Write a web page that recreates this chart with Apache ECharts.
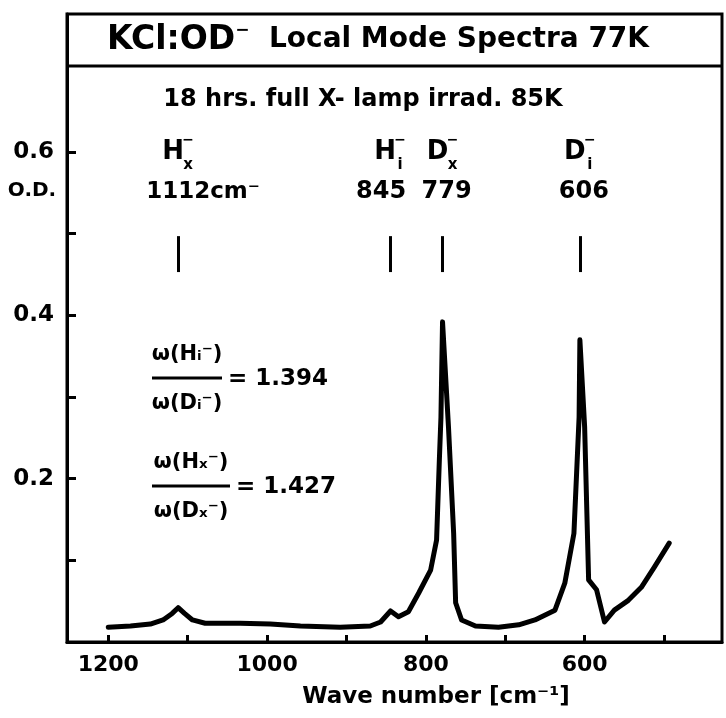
<!DOCTYPE html>
<html>
<head>
<meta charset="utf-8">
<title>KCl:OD⁻ Local Mode Spectra 77K</title>
<script src="https://cdn.jsdelivr.net/npm/echarts@6/dist/echarts.min.js"></script>
<style>body{margin:0;background:#fff;}</style>
</head>
<body>
<div id="main" style="width:726px;height:718px;"></div>
<script>
// trace: wave number (cm-1) and optical density
var waveNumber = [1200, 1172, 1147, 1131, 1119.5, 1112, 1104, 1094, 1078, 1034, 996, 958, 908, 870,
    857, 844.5, 834.5, 822, 809, 794, 786.5, 783, 781, 779, 771.5, 765, 762.5, 755, 737.5, 708.5,
    683, 662.6, 637.4, 625, 613.5, 607, 606, 600, 595, 585, 575, 562.6, 545, 528.6, 512, 493.5];
var opticalDensity = [0.018, 0.0196, 0.022, 0.027, 0.035, 0.042, 0.035, 0.027, 0.023, 0.023, 0.022, 0.0196, 0.018, 0.0196,
    0.0245, 0.038, 0.031, 0.037, 0.06, 0.088, 0.125, 0.223, 0.275, 0.392, 0.263, 0.133, 0.048, 0.027, 0.0196, 0.018,
    0.021, 0.027, 0.039, 0.072, 0.133, 0.275, 0.37, 0.263, 0.076, 0.064, 0.0245, 0.039, 0.051, 0.067, 0.092, 0.121];

var xTickValues = [1200, 1100, 1000, 900, 800, 700, 600, 500];
var xLabelValues = [1200, 1000, 800, 600];
var yTickValues = [0.1, 0.2, 0.3, 0.4, 0.5, 0.6];
var yLabelValues = [0.2, 0.4, 0.6];

// peak markers
var peakWn = [1112, 845, 779, 606];
var peakIon = ['H', 'H', 'D', 'D'];
var peakSub = ['x', 'i', 'x', 'i'];
var peakNum = ['1112', '845', '779', '606'];
var markerBottom = 0.453, markerTop = 0.497;

// frequency ratios
var ratioNum = ['ω(Hᵢ⁻)', 'ω(Hₓ⁻)'];
var ratioDen = ['ω(Dᵢ⁻)', 'ω(Dₓ⁻)'];
var ratioVal = ['1.394', '1.427'];

var FONT = 'DejaVu Sans';
var chart = echarts.init(document.getElementById('main'));

var trace = waveNumber.map(function (w, i) { return [w, opticalDensity[i]]; });
var markers = peakWn.map(function (w) {
    return [{ coord: [w, markerBottom] }, { coord: [w, markerTop] }];
});

function txt(x, y, s, size, align) {
    return {
        type: 'text', x: x, y: y, z: 10,
        style: {
            text: s, fill: '#000', font: 'bold ' + size + 'px "' + FONT + '"',
            textAlign: align || 'center', textVerticalAlign: 'middle'
        }
    };
}
function hline(x1, x2, y, w) {
    return { type: 'line', shape: { x1: x1, y1: y, x2: x2, y2: y }, style: { stroke: '#000', lineWidth: w }, z: 10 };
}

var graphics = [
    hline(66, 722, 66, 3),
    {
        type: 'text', x: 378, y: 40, z: 10,
        style: {
            text: '{a|KCl:OD}{s|−}{b|  Local Mode Spectra 77K}',
            textAlign: 'center', textVerticalAlign: 'middle', fill: '#000',
            rich: {
                a: { fontFamily: FONT, fontWeight: 'bold', fontSize: 33, fill: '#000' },
                s: { fontFamily: FONT, fontWeight: 'bold', fontSize: 17, fill: '#000', padding: [0, 0, 18, 0] },
                b: { fontFamily: FONT, fontWeight: 'bold', fontSize: 28, fill: '#000' }
            }
        }
    },
    txt(363, 100, '18 hrs. full X- lamp irrad. 85K', 24),
    txt(32, 191, 'O.D.', 20),
    txt(436, 697, 'Wave number [cm⁻¹]', 23)
];

// ratio fractions
var ratioY = [378, 486];
var ratioX2 = [222, 230];
ratioVal.forEach(function (v, i) {
    var cx = (152 + ratioX2[i]) / 2;
    graphics.push(txt(cx, ratioY[i] - 23, ratioNum[i], 21));
    graphics.push(hline(152, ratioX2[i], ratioY[i], 3));
    graphics.push(txt(cx, ratioY[i] + 26, ratioDen[i], 21));
    graphics.push(txt(ratioX2[i] + 6, ratioY[i] + 1, '= ' + v, 23, 'left'));
});

var option = {
    animation: false,
    grid: { left: 67, right: 4, top: 14, bottom: 76, show: true, borderColor: '#000', borderWidth: 3 },
    xAxis: {
        type: 'value', inverse: true, min: 427, max: 1252,
        axisLine: { lineStyle: { color: '#000', width: 3 } },
        axisTick: { inside: true, length: 7, customValues: xTickValues, lineStyle: { color: '#000', width: 3 } },
        axisLabel: {
            customValues: xLabelValues, color: '#000', fontFamily: FONT, fontWeight: 'bold', fontSize: 22, margin: 12,
            formatter: function (v) { return String(v); }
        },
        splitLine: { show: false }
    },
    yAxis: {
        type: 'value', min: 0, max: 0.769,
        axisLine: { lineStyle: { color: '#000', width: 3 } },
        axisTick: { inside: true, length: 9, customValues: yTickValues, lineStyle: { color: '#000', width: 3 } },
        axisLabel: {
            customValues: yLabelValues, color: '#000', fontFamily: FONT, fontWeight: 'bold', fontSize: 23, margin: 13,
            formatter: function (v) { return v.toFixed(1); }
        },
        splitLine: { show: false }
    },
    series: [{
        type: 'line', data: trace, symbol: 'none', smooth: false,
        lineStyle: { color: '#000', width: 5, join: 'round', cap: 'round' },
        markLine: {
            silent: true, symbol: 'none', label: { show: false },
            lineStyle: { color: '#000', width: 3, type: 'solid' },
            data: markers
        }
    }],
    graphic: graphics
};
chart.setOption(option);

// peak labels, placed at the peak positions on the x axis
peakWn.forEach(function (w, i) {
    var px = chart.convertToPixel({ xAxisIndex: 0 }, w);
    graphics.push(txt(px - 5, 152, peakIon[i], 26));
    graphics.push(txt(px + 10, 140, '−', 14));
    graphics.push(txt(px + 10, 165, peakSub[i], 15));
    if (i === 0) {
        graphics.push(txt(px - 32, 192, peakNum[i] + 'cm⁻', 23, 'left'));
    } else {
        graphics.push(txt(px + (i === 1 ? -9 : 4), 192, peakNum[i], 24));
    }
});
chart.setOption({ graphic: graphics });
</script>
</body>
</html>
